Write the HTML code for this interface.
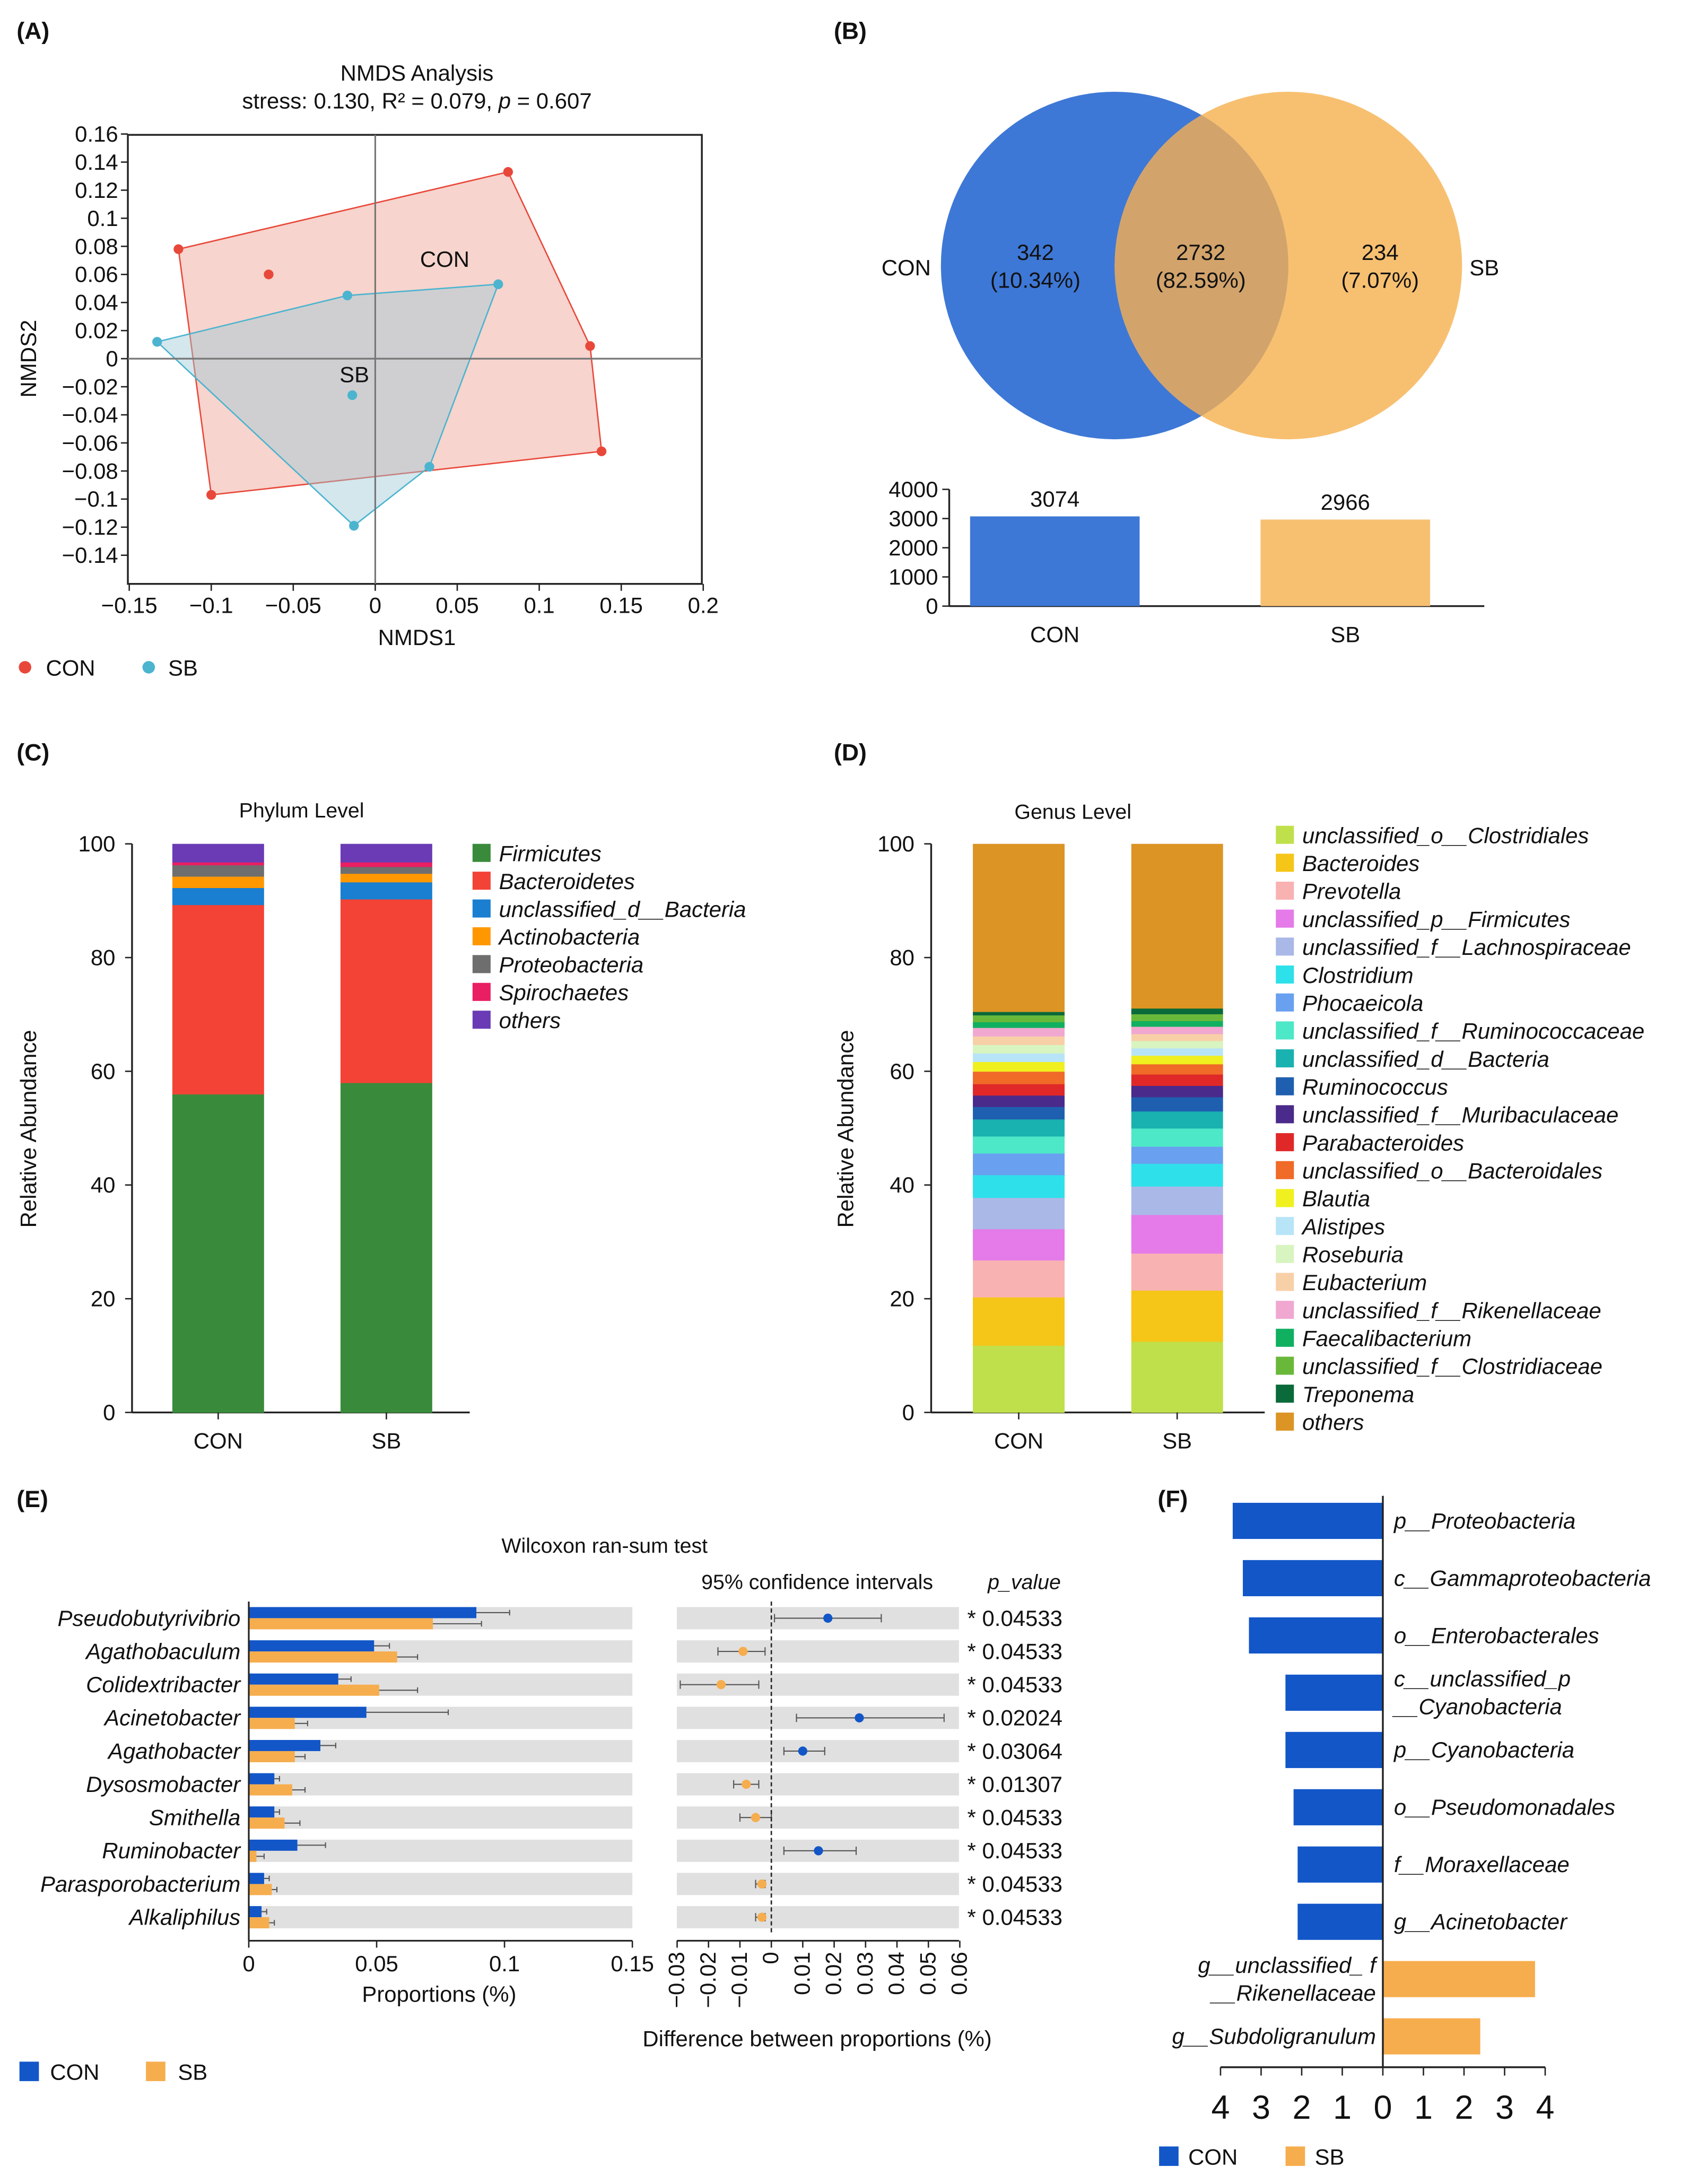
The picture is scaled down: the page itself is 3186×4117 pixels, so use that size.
<!DOCTYPE html>
<html><head><meta charset="utf-8"><style>
html,body{margin:0;padding:0;background:#fff}
svg{display:block;font-family:"Liberation Sans",Arial,sans-serif}
text{fill:#111}
.it{font-style:italic}
</style></head><body>
<svg id="fig" width="3186" height="4117" viewBox="0 0 1216 1571" preserveAspectRatio="none" xmlns="http://www.w3.org/2000/svg">
<g font-size="17" font-weight="bold">
<text x="12" y="28">(A)</text>
<text x="600" y="28">(B)</text>
<text x="12" y="547">(C)</text>
<text x="600" y="547">(D)</text>
<text x="12" y="1084">(E)</text>
<text x="833" y="1084">(F)</text>
</g>
<g id="A">
<text x="300" y="58" font-size="16" text-anchor="middle">NMDS Analysis</text>
<text x="300" y="78" font-size="16" text-anchor="middle">stress: 0.130, R² = 0.079, <tspan class="it">p</tspan> = 0.607</text>
<text x="300" y="464" font-size="16" text-anchor="middle">NMDS1</text>
<text transform="translate(26,258) rotate(-90)" font-size="16" text-anchor="middle">NMDS2</text>
<circle cx="18" cy="480" r="4.5" fill="#e8483a"/>
<text x="33" y="486" font-size="16">CON</text>
<circle cx="107" cy="480" r="4.5" fill="#4cb4cf"/>
<text x="121" y="486" font-size="16">SB</text>
</g>
<g id="B"></g>
<g id="C">
<text x="217" y="588" font-size="15" text-anchor="middle">Phylum Level</text>
<text transform="translate(26,812) rotate(-90)" font-size="16" text-anchor="middle">Relative Abundance</text>
</g>
<g id="D">
<text x="772" y="589" font-size="15" text-anchor="middle">Genus Level</text>
<text transform="translate(614,812) rotate(-90)" font-size="16" text-anchor="middle">Relative Abundance</text>
</g>
<g id="E">
<text x="435" y="1117" font-size="15" text-anchor="middle">Wilcoxon ran-sum test</text>
<text x="588" y="1143" font-size="15" text-anchor="middle">95% confidence intervals</text>
<text x="737" y="1143" font-size="15" text-anchor="middle" class="it">p_value</text>
<text x="316" y="1440" font-size="16" text-anchor="middle">Proportions (%)</text>
<text x="588" y="1472" font-size="16" text-anchor="middle">Difference between proportions (%)</text>
<rect x="14" y="1483" width="14" height="14" fill="#1256c8"/>
<text x="36" y="1496" font-size="16">CON</text>
<rect x="105" y="1483" width="14" height="14" fill="#f6ad4e"/>
<text x="128" y="1496" font-size="16">SB</text>
</g>
<g id="F">
<rect x="834" y="1544" width="14" height="14" fill="#1256c8"/>
<text x="855" y="1557" font-size="16">CON</text>
<rect x="925" y="1544" width="14" height="14" fill="#f6ad4e"/>
<text x="946" y="1557" font-size="16">SB</text>
</g>
</svg>
<script>
// ---------- data ----------
const nmdsConX=[-0.12,-0.065,0.081,0.131,0.138,-0.1];
const nmdsConY=[0.078,0.06,0.133,0.009,-0.066,-0.097];
const nmdsConHull=[0,2,3,4,5];
const nmdsSbX=[-0.133,-0.017,0.075,-0.014,0.033,-0.013];
const nmdsSbY=[0.012,0.045,0.053,-0.026,-0.077,-0.119];
const nmdsSbHull=[0,1,2,4,5];
const nmdsXTicks=[-0.15,-0.1,-0.05,0,0.05,0.1,0.15,0.2];
const nmdsXTickLabels=["−0.15","−0.1","−0.05","0","0.05","0.1","0.15","0.2"];
const nmdsYTicks=[0.16,0.14,0.12,0.1,0.08,0.06,0.04,0.02,0,-0.02,-0.04,-0.06,-0.08,-0.1,-0.12,-0.14];
const nmdsYTickLabels=["0.16","0.14","0.12","0.1","0.08","0.06","0.04","0.02","0","−0.02","−0.04","−0.06","−0.08","−0.1","−0.12","−0.14"];

const vennCounts=["342","2732","234"];
const vennPercents=["(10.34%)","(82.59%)","(7.07%)"];
const otuGroups=["CON","SB"];
const otuTotals=[3074,2966];
const otuTicks=[0,1000,2000,3000,4000];

const phylumNames=["Firmicutes","Bacteroidetes","unclassified_d__Bacteria","Actinobacteria","Proteobacteria","Spirochaetes","others"];
const phylumCon=[56,33.3,3,2,2,0.5,3.2];
const phylumSb=[58,32.3,3,1.5,1.2,0.8,3.2];
const phylumColors=["#398b3b","#f34336","#1a7fd0","#ff9800","#6e6e6e","#e91e63","#6a3bb5"];

const genusNames=["unclassified_o__Clostridiales","Bacteroides","Prevotella","unclassified_p__Firmicutes","unclassified_f__Lachnospiraceae","Clostridium","Phocaeicola","unclassified_f__Ruminococcaceae","unclassified_d__Bacteria","Ruminococcus","unclassified_f__Muribaculaceae","Parabacteroides","unclassified_o__Bacteroidales","Blautia","Alistipes","Roseburia","Eubacterium","unclassified_f__Rikenellaceae","Faecalibacterium","unclassified_f__Clostridiaceae","Treponema","others"];
const genusCon=[11.8,8.5,6.5,5.5,5.5,4,3.8,3,3,2.2,2,2,2.2,1.7,1.5,1.5,1.5,1.5,1,1.2,0.6,29.5];
const genusSb=[12.5,9,6.5,6.8,5,4,3,3.2,3,2.5,2,2,1.8,1.5,1.3,1.3,1.2,1.3,1,1.2,1,28.9];
const genusColors=["#bfe04a","#f5c518","#f9b2b2","#e47be8","#aab8e8","#2ee0ea","#6aa0f0","#4de8c8","#1ab2b0","#1f5fb0","#4a2a8a","#e02828","#f06a28","#f0f020","#b8e4f8","#d8f4c0","#f8d0a8","#f0a8d0","#10b060","#6ab83a","#0a6a3a","#dc9424"];
const abundTicks=[0,20,40,60,80,100];

const wilTaxa=["Pseudobutyrivibrio","Agathobaculum","Colidextribacter","Acinetobacter","Agathobacter","Dysosmobacter","Smithella","Ruminobacter","Parasporobacterium","Alkaliphilus"];
const wilCon=[0.089,0.049,0.035,0.046,0.028,0.01,0.01,0.019,0.006,0.005];
const wilConErr=[0.013,0.006,0.005,0.032,0.006,0.002,0.002,0.011,0.002,0.002];
const wilSb=[0.072,0.058,0.051,0.018,0.018,0.017,0.014,0.003,0.009,0.008];
const wilSbErr=[0.019,0.008,0.015,0.005,0.004,0.005,0.006,0.003,0.002,0.002];
const diffVal=[0.018,-0.009,-0.016,0.028,0.010,-0.008,-0.005,0.015,-0.003,-0.003];
const diffLo=[0.001,-0.017,-0.029,0.008,0.004,-0.012,-0.010,0.004,-0.005,-0.005];
const diffHi=[0.035,-0.002,-0.004,0.055,0.017,-0.004,0.000,0.027,-0.002,-0.002];
const pValues=["0.04533","0.04533","0.04533","0.02024","0.03064","0.01307","0.04533","0.04533","0.04533","0.04533"];
const propTicks=[0,0.05,0.1,0.15];
const diffTicks=[-0.03,-0.02,-0.01,0,0.01,0.02,0.03,0.04,0.05,0.06];
const diffTickLabels=["−0.03","−0.02","−0.01","0","0.01","0.02","0.03","0.04","0.05","0.06"];

const ldaTaxa=[["p__Proteobacteria"],["c__Gammaproteobacteria"],["o__Enterobacterales"],["c__unclassified_p","__Cyanobacteria"],["p__Cyanobacteria"],["o__Pseudomonadales"],["f__Moraxellaceae"],["g__Acinetobacter"],["g__unclassified_ f","__Rikenellaceae"],["g__Subdoligranulum"]];
const ldaGroup=["CON","CON","CON","CON","CON","CON","CON","CON","SB","SB"];
const ldaScore=[3.7,3.45,3.3,2.4,2.4,2.2,2.1,2.1,3.75,2.4];
const ldaTicks=[-4,-3,-2,-1,0,1,2,3,4];

// ---------- helpers ----------
const NS="http://www.w3.org/2000/svg";
function mk(tag,attrs,parent,txt){const e=document.createElementNS(NS,tag);for(const k in attrs)e.setAttribute(k,attrs[k]);if(txt!==undefined)e.textContent=txt;parent.appendChild(e);return e;}
function tag(e,name,inter){


return e;}
const A=document.getElementById('A'),B=document.getElementById('B'),C=document.getElementById('C'),D=document.getElementById('D'),E=document.getElementById('E'),F=document.getElementById('F');

// ---------- A: NMDS ----------
const ax=v=>270+v*1180, ay=v=>258-v*1010;
tag(mk('rect',{x:92,y:97,width:413,height:323,fill:'none',stroke:'#222','stroke-width':1.3},A),'nmds-plot-frame');
tag(mk('polygon',{points:nmdsConHull.map(i=>ax(nmdsConX[i])+','+ay(nmdsConY[i])).join(' '),fill:'#f4c2b8',stroke:'#e8483a','stroke-width':1,'fill-opacity':0.7},A),'con-hull');
tag(mk('polygon',{points:nmdsSbHull.map(i=>ax(nmdsSbX[i])+','+ay(nmdsSbY[i])).join(' '),fill:'#9ec9d6',stroke:'#4cb4cf','stroke-width':1,'fill-opacity':0.45},A),'sb-hull');
tag(mk('line',{x1:92,x2:505,y1:ay(0),y2:ay(0),stroke:'#777','stroke-width':1.2},A),'nmds-zero-h');
tag(mk('line',{x1:ax(0),x2:ax(0),y1:97,y2:420,stroke:'#777','stroke-width':1.2},A),'nmds-zero-v');
nmdsConX.forEach((v,i)=>tag(mk('circle',{cx:ax(v),cy:ay(nmdsConY[i]),r:3.5,fill:'#e8483a'},A),'con-point'));
nmdsSbX.forEach((v,i)=>tag(mk('circle',{cx:ax(v),cy:ay(nmdsSbY[i]),r:3.5,fill:'#4cb4cf'},A),'sb-point'));
tag(mk('text',{x:320,y:192,'font-size':16,'text-anchor':'middle'},A,'CON'),'con-group-label');
tag(mk('text',{x:255,y:275,'font-size':16,'text-anchor':'middle'},A,'SB'),'sb-group-label');
nmdsXTicks.forEach((v,i)=>{tag(mk('line',{x1:ax(v),x2:ax(v),y1:420,y2:425,stroke:'#222'},A),'x-tick');
tag(mk('text',{x:ax(v),y:441,'font-size':16,'text-anchor':'middle'},A,nmdsXTickLabels[i]),'x-tick-label');});
nmdsYTicks.forEach((v,i)=>{tag(mk('line',{x1:87,x2:92,y1:ay(v),y2:ay(v),stroke:'#222'},A),'y-tick');
tag(mk('text',{x:85,y:ay(v)+5.5,'font-size':16,'text-anchor':'end'},A,nmdsYTickLabels[i]),'y-tick-label');});

// ---------- B: Venn + bars ----------
const defs=mk('defs',{},B);const cp=mk('clipPath',{id:'clipBlue'},defs);mk('circle',{cx:802,cy:191,r:125},cp);
tag(mk('circle',{cx:802,cy:191,r:125,fill:'#3e78d6'},B),'venn-con-circle');
tag(mk('circle',{cx:927,cy:191,r:125,fill:'#f7c071'},B),'venn-sb-circle');
tag(mk('circle',{cx:927,cy:191,r:125,fill:'#d2a46c','clip-path':'url(#clipBlue)'},B),'venn-overlap');
[745,864,993].forEach((x,i)=>{tag(mk('text',{x:x,y:187,'font-size':16,'text-anchor':'middle'},B,vennCounts[i]),'venn-count');
tag(mk('text',{x:x,y:207,'font-size':16,'text-anchor':'middle'},B,vennPercents[i]),'venn-percent');});
tag(mk('text',{x:652,y:198,'font-size':16,'text-anchor':'middle'},B,'CON'),'venn-con-label');
tag(mk('text',{x:1068,y:198,'font-size':16,'text-anchor':'middle'},B,'SB'),'venn-sb-label');
const by=v=>436-v*0.021;
tag(mk('line',{x1:683,x2:683,y1:by(4000),y2:436,stroke:'#222','stroke-width':1.3},B),'otu-y-axis');
tag(mk('line',{x1:683,x2:1068,y1:436,y2:436,stroke:'#222','stroke-width':1.3},B),'otu-x-axis');
otuTicks.forEach(v=>{tag(mk('line',{x1:678,x2:683,y1:by(v),y2:by(v),stroke:'#222'},B),'otu-y-tick');
tag(mk('text',{x:675,y:by(v)+5.5,'font-size':16,'text-anchor':'end'},B,String(v)),'otu-y-tick-label');});
const bcol=['#3e78d6','#f7c071'];
otuGroups.forEach((g,i)=>{const x=698+i*209;
tag(mk('rect',{x:x,y:by(otuTotals[i]),width:122,height:otuTotals[i]*0.021,fill:bcol[i]},B),'otu-bar-'+g.toLowerCase());
tag(mk('text',{x:x+61,y:by(otuTotals[i])-7,'font-size':16,'text-anchor':'middle'},B,String(otuTotals[i])),'otu-bar-value');
tag(mk('text',{x:x+61,y:462,'font-size':16,'text-anchor':'middle'},B,g),'otu-x-label');});

// ---------- C & D stacked ----------
const sy=v=>1016-v*4.09;
function stacked(G,x0,x1,bars,vals,colors,names,legX,legY0,legStep,prefix){
tag(mk('line',{x1:x0,x2:x0,y1:sy(100),y2:1016,stroke:'#222','stroke-width':1.3},G),prefix+'-y-axis');
tag(mk('line',{x1:x0,x2:x1,y1:1016,y2:1016,stroke:'#222','stroke-width':1.3},G),prefix+'-x-axis');
abundTicks.forEach(v=>{tag(mk('line',{x1:x0-5,x2:x0,y1:sy(v),y2:sy(v),stroke:'#222'},G),prefix+'-y-tick');
tag(mk('text',{x:x0-12,y:sy(v)+5.5,'font-size':16,'text-anchor':'end'},G,String(v)),prefix+'-y-tick-label');});
otuGroups.forEach((g,bi)=>{let acc=0;const bx=bars[bi];
vals[bi].forEach((v,k)=>{tag(mk('rect',{x:bx,y:sy(acc+v),width:66,height:v*4.09+0.3,fill:colors[k]},G),prefix+'-segment-'+g.toLowerCase());acc+=v;});
tag(mk('line',{x1:bx+33,x2:bx+33,y1:1016,y2:1021,stroke:'#222'},G),prefix+'-x-tick');
tag(mk('text',{x:bx+33,y:1042,'font-size':16,'text-anchor':'middle'},G,g),prefix+'-x-label');});
names.forEach((n,k)=>{const y=legY0+k*legStep;
tag(mk('rect',{x:legX,y:y-7,width:13,height:13,fill:colors[k]},G),prefix+'-legend-swatch');
tag(mk('text',{x:legX+19,y:y+5.5,'font-size':16,'class':'it'},G,n),prefix+'-legend-label');});}
stacked(C,95,338,[124,245],[phylumCon,phylumSb],phylumColors,phylumNames,340,614,20,'phylum');
stacked(D,670,910,[700,814],[genusCon,genusSb],genusColors,genusNames,918,601,20.1,'genus');

// ---------- E ----------
const rowY=i=>1164+i*23.9;
const px=v=>179+v*1840, dx=v=>555+v*2260;
wilTaxa.forEach((t,i)=>{const y=rowY(i);
tag(mk('rect',{x:179,y:y-8,width:276,height:16,fill:'#e0e0e0'},E),'prop-row-bg');
tag(mk('rect',{x:487,y:y-8,width:203,height:16,fill:'#e0e0e0'},E),'ci-row-bg');
tag(mk('text',{x:173,y:y+5.5,'font-size':16,'text-anchor':'end','class':'it'},E,t),'taxon-label');
tag(mk('rect',{x:179,y:y-8,width:wilCon[i]*1840,height:8,fill:'#1256c8'},E),'prop-bar-con');
tag(mk('rect',{x:179,y:y,width:wilSb[i]*1840,height:8,fill:'#f6ad4e'},E),'prop-bar-sb');
tag(mk('line',{x1:px(wilCon[i]),x2:px(wilCon[i]+wilConErr[i]),y1:y-4,y2:y-4,stroke:'#555','stroke-width':0.8},E),'prop-err-con');
tag(mk('line',{x1:px(wilCon[i]+wilConErr[i]),x2:px(wilCon[i]+wilConErr[i]),y1:y-6,y2:y-2,stroke:'#555','stroke-width':0.8},E),'prop-err-cap');
tag(mk('line',{x1:px(wilSb[i]),x2:px(wilSb[i]+wilSbErr[i]),y1:y+4,y2:y+4,stroke:'#555','stroke-width':0.8},E),'prop-err-sb');
tag(mk('line',{x1:px(wilSb[i]+wilSbErr[i]),x2:px(wilSb[i]+wilSbErr[i]),y1:y+2,y2:y+6,stroke:'#555','stroke-width':0.8},E),'prop-err-cap');
tag(mk('line',{x1:dx(diffLo[i]),x2:dx(diffHi[i]),y1:y,y2:y,stroke:'#555','stroke-width':0.8},E),'ci-line');
[diffLo[i],diffHi[i]].forEach(v=>tag(mk('line',{x1:dx(v),x2:dx(v),y1:y-3,y2:y+3,stroke:'#555','stroke-width':0.8},E),'ci-cap'));
tag(mk('circle',{cx:dx(diffVal[i]),cy:y,r:3.3,fill:diffVal[i]>0?'#1256c8':'#f6ad4e'},E),'ci-point');
tag(mk('text',{x:696,y:y+5.5,'font-size':16},E,'* '+pValues[i]),'p-value');});
tag(mk('line',{x1:dx(0),x2:dx(0),y1:1152,y2:1392,stroke:'#222','stroke-width':1,'stroke-dasharray':'3,2'},E),'ci-zero-line');
tag(mk('line',{x1:179,x2:179,y1:1152,y2:1396,stroke:'#222','stroke-width':1.2},E),'prop-y-axis');
tag(mk('line',{x1:179,x2:455,y1:1396,y2:1396,stroke:'#222','stroke-width':1.2},E),'prop-x-axis');
propTicks.forEach(v=>{tag(mk('line',{x1:px(v),x2:px(v),y1:1396,y2:1401,stroke:'#222'},E),'prop-x-tick');
tag(mk('text',{x:px(v),y:1418,'font-size':16,'text-anchor':'middle'},E,String(v)),'prop-x-tick-label');});
tag(mk('line',{x1:487,x2:690,y1:1396,y2:1396,stroke:'#222','stroke-width':1.2},E),'ci-x-axis');
diffTicks.forEach((v,i)=>{tag(mk('line',{x1:dx(v),x2:dx(v),y1:1396,y2:1401,stroke:'#222'},E),'ci-x-tick');
tag(mk('text',{transform:'translate('+(dx(v)+5)+',1404) rotate(-90)','font-size':16,'text-anchor':'end'},E,diffTickLabels[i]),'ci-x-tick-label');});

// ---------- F ----------
const fx=v=>995+v*29.2, fy=i=>1094+i*41.2;
ldaTaxa.forEach((lab,i)=>{const y=fy(i),con=ldaGroup[i]==='CON',s=ldaScore[i];
const x=con?fx(-s):fx(0);
tag(mk('rect',{x:x,y:y-13,width:s*29.2,height:26,fill:con?'#1256c8':'#f6ad4e'},F),'lda-bar-'+ldaGroup[i].toLowerCase());
lab.forEach((l,k)=>{const yy=y+5.5+(lab.length>1?(k-0.5)*20:0);
tag(mk('text',{x:con?1003:990,y:yy,'font-size':16,'class':'it','text-anchor':con?'start':'end'},F,l),'lda-taxon-label');});});
tag(mk('line',{x1:995,x2:995,y1:1076,y2:1487,stroke:'#222','stroke-width':1.3},F),'lda-zero-line');
tag(mk('line',{x1:fx(-4),x2:fx(4),y1:1487,y2:1487,stroke:'#222','stroke-width':1.3},F),'lda-x-axis');
ldaTicks.forEach(v=>{tag(mk('line',{x1:fx(v),x2:fx(v),y1:1487,y2:1493,stroke:'#222'},F),'lda-x-tick');
tag(mk('text',{x:fx(v),y:1524,'font-size':24,'text-anchor':'middle'},F,String(Math.abs(v))),'lda-x-tick-label');});
</script>
</body></html>
